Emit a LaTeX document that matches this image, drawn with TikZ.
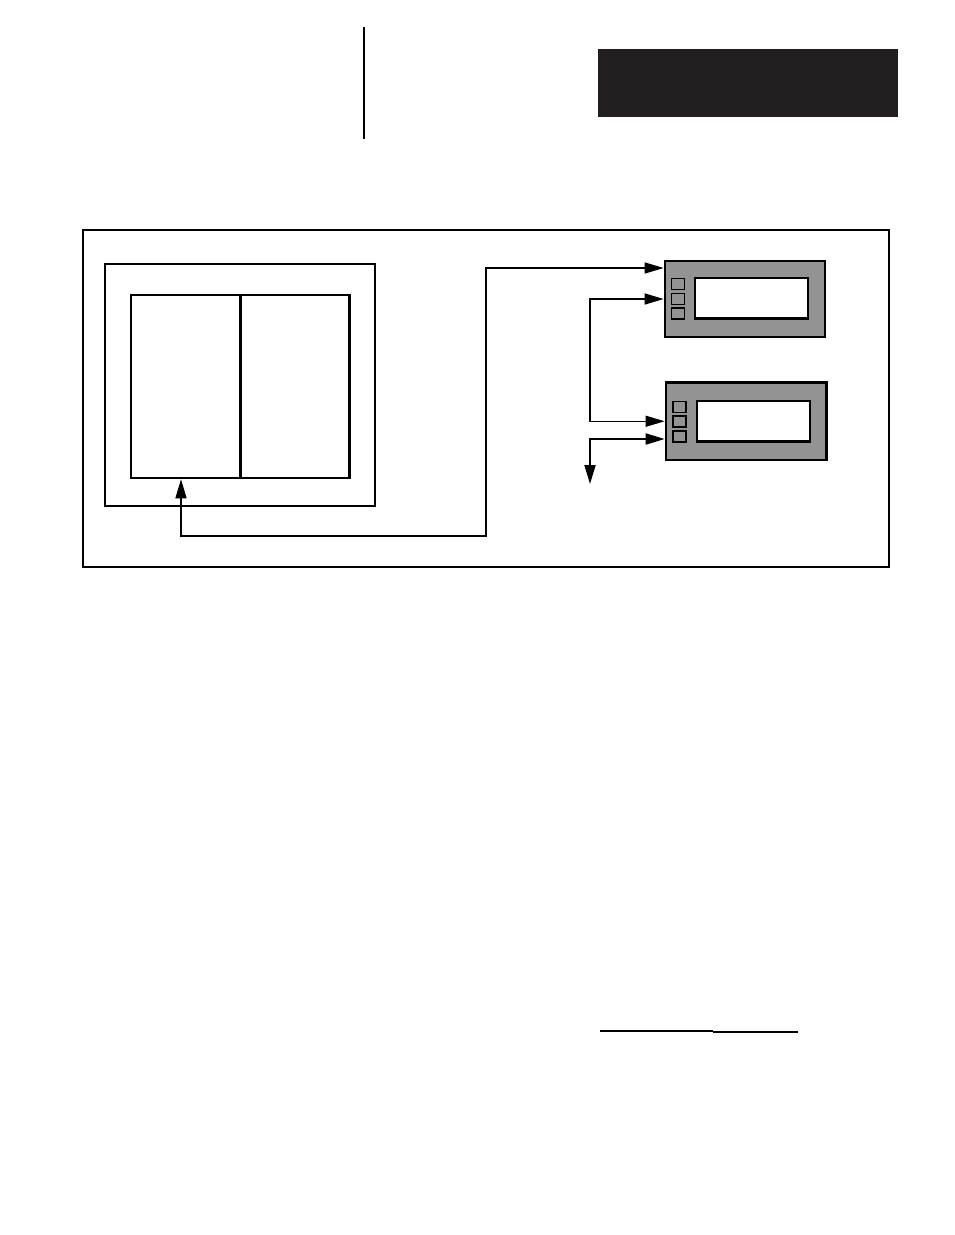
\documentclass[tikz,border=0pt]{standalone}
\usepackage{tikz}
\usepackage{xcolor}
\usetikzlibrary{arrows.meta,positioning}
\definecolor{panelgray}{HTML}{939393}
\definecolor{tabblack}{HTML}{231F20}
\newcommand{\dpx}{0.6pt}
\tikzset{%
	box/.style      = {draw, rectangle, inner sep=0pt, line width=1.2pt}, % plain box
	panel/.style    = {draw, rectangle, inner sep=0pt, line width=1.6pt, fill=panelgray}, % operator panel
	screen/.style   = {draw, rectangle, inner sep=0pt, line width=1.3pt, fill=white, minimum width=113*\dpx, minimum height=40.5*\dpx}, % display
	key/.style      = {draw, rectangle, inner sep=0pt, line width=1.1pt, fill=panelgray, minimum width=13*\dpx, minimum height=11*\dpx}, % key
	waypoint/.style = {coordinate},
	link/.style     = {line width=0.8pt, {Triangle[length=19*\dpx, width=11*\dpx]}-{Triangle[length=19*\dpx, width=11*\dpx]}},
}

\begin{document}
\begin{tikzpicture}[x=\dpx, y=-\dpx]
	\useasboundingbox (0,0) rectangle (954,1235);
	% header
	\node[box, fill=tabblack, draw=tabblack, minimum width=298*\dpx, minimum height=66*\dpx] (tab) at (748,83) {};
	\coordinate (rulet) at (364,27);
	\coordinate (ruleb) at (364,139);
	\draw[line width=1.2pt] (rulet) -- (ruleb);
	% figure frame
	\node[box, minimum width=806*\dpx, minimum height=337*\dpx] (frame) at (486,398.5) {};
	% controller
	\node[box, line width=1.3pt, minimum width=270*\dpx, minimum height=242*\dpx] (plc) at (240,385) {};
	\node[box, line width=1.5pt, minimum width=218.5*\dpx, minimum height=183*\dpx] (rack) at (240.25,386.5) {};
	\draw[line width=1.5pt] (rack.north) -- (rack.south);
	% operator panels
	\node[panel, minimum width=160*\dpx, minimum height=76*\dpx] (dev1) at (745,299) {};
	\node[screen] (scr1) at (751.5,298.25) {};
	\node[key] (d1k1) at (678,284) {};
	\node[key] (d1k2) at (678,299) {};
	\node[key] (d1k3) at (678,313.5) {};
	\node[panel, minimum width=160.5*\dpx, minimum height=77.5*\dpx] (dev2) at (746.25,421.25) {};
	\node[screen] (scr2) at (753.25,421.25) {};
	\node[key] (d2k1) at (679.5,407) {};
	\node[key] (d2k2) at (679.5,421.5) {};
	\node[key] (d2k3) at (679.5,436.5) {};
	% links
	\node[waypoint] (ret) at (181,536) {};
	\node[waypoint] (hub) at (486,268) {};
	\node[waypoint] (trunk) at (590,484) {};
	\node[waypoint] (tail) at (590,439) {};
	\draw[link] (rack.south -| ret) -- (ret) -| (hub) -- (hub -| dev1.west);
	\draw[link] (dev1.west) -| (dev2.west -| trunk) -- (dev2.west);
	\draw[link, line width=1.1pt] (tail -| dev2.west) -- (tail) -- (trunk);
	% footer rule
	\node[waypoint] (fa) at (600,1031) {};
	\node[waypoint] (fb) at (713,1031) {};
	\node[waypoint] (fc) at (798,1032) {};
	\draw[line width=0.9pt] (fa) -- (fb);
	\draw[line width=0.9pt] (fb |- fc) -- (fc);
\end{tikzpicture}
\end{document}
